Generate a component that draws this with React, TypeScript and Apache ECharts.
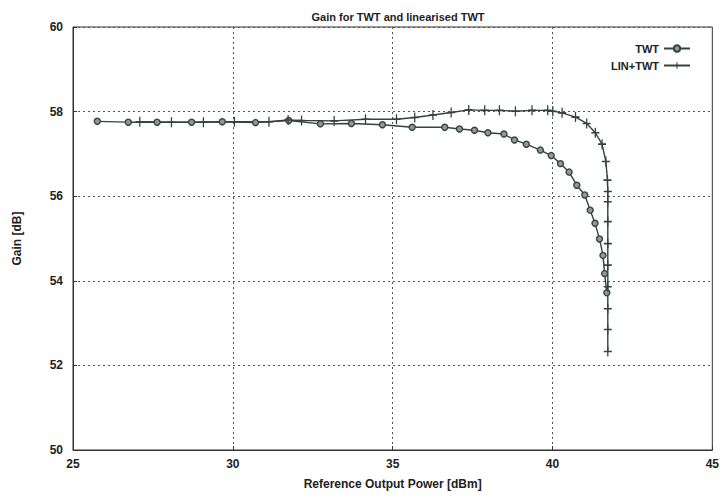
import React, { useEffect, useRef } from "react";
import * as echarts from "echarts";

const twtX = [25.76, 26.73, 27.63, 28.71, 29.67, 30.71, 31.75, 32.74, 33.71, 34.68, 35.61, 36.63, 37.09, 37.56, 37.98, 38.48, 38.81, 39.18, 39.62, 39.96, 40.25, 40.52, 40.76, 41.01, 41.18, 41.33, 41.47, 41.58, 41.63, 41.70];
const twtY = [57.77, 57.75, 57.75, 57.75, 57.76, 57.74, 57.79, 57.71, 57.72, 57.69, 57.63, 57.63, 57.59, 57.56, 57.50, 57.47, 57.33, 57.23, 57.09, 56.96, 56.77, 56.57, 56.26, 56.03, 55.67, 55.36, 54.99, 54.60, 54.17, 53.72];

const linX = [27.09, 28.08, 29.08, 30.05, 31.13, 31.73, 32.15, 33.17, 34.15, 35.12, 35.69, 36.26, 36.83, 37.38, 37.88, 38.34, 38.84, 39.36, 39.85, 40.01, 40.30, 40.72, 41.07, 41.34, 41.55, 41.67, 41.72, 41.73, 41.73, 41.73, 41.73, 41.73, 41.73, 41.73, 41.73, 41.73];
const linY = [57.76, 57.75, 57.75, 57.76, 57.76, 57.80, 57.79, 57.78, 57.82, 57.82, 57.86, 57.92, 57.98, 58.04, 58.03, 58.03, 58.01, 58.03, 58.03, 58.01, 57.97, 57.87, 57.72, 57.50, 57.23, 56.82, 56.38, 56.11, 55.87, 55.40, 54.88, 54.37, 53.86, 53.34, 52.85, 52.33];

const xTicks = [25, 30, 35, 40, 45];
const yTicks = [50, 52, 54, 56, 58, 60];

const titleText = "Gain for TWT and linearised TWT";
const xName = "Reference Output Power [dBm]";
const yName = "Gain [dB]";
const seriesNames = ["TWT", "LIN+TWT"];

const lineColor = "#34433f";
const textColor = "#222";
const font = "Liberation Sans, Arial, sans-serif";

const plusPath = "path://M4.2,0L5.8,0L5.8,4.2L10,4.2L10,5.8L5.8,5.8L5.8,10L4.2,10L4.2,5.8L0,5.8L0,4.2L4.2,4.2Z";

export default function App() {
  const ref = useRef<HTMLDivElement>(null);
  useEffect(() => {
    if (!ref.current) return;
    const chart = echarts.init(ref.current, undefined, { renderer: "svg" });
    chart.setOption({
      animation: false,
      backgroundColor: "#fff",
      title: {
        text: titleText,
        left: 393,
        textAlign: "center",
        top: 6,
        textStyle: { fontFamily: font, fontSize: 11, fontWeight: "bold", color: textColor },
      },
      legend: {
        orient: "vertical",
        right: 26,
        top: 38,
        align: "right",
        itemWidth: 26,
        itemHeight: 8,
        itemGap: 6,
        data: seriesNames,
        textStyle: { fontFamily: font, fontSize: 11, fontWeight: "bold", color: textColor },
      },
      grid: {
        left: 73,
        right: 9,
        top: 27,
        bottom: 47,
        show: true,
        borderColor: "#333",
        borderWidth: 1,
        backgroundColor: "transparent",
      },
      xAxis: {
        type: "value",
        min: xTicks[0],
        max: xTicks[xTicks.length - 1],
        interval: 5,
        name: xName,
        nameLocation: "middle",
        nameGap: 28,
        nameTextStyle: { fontFamily: font, fontSize: 12, fontWeight: "bold", color: textColor },
        axisLine: { show: true, lineStyle: { color: "#333" } },
        axisTick: { show: true, inside: true, length: 4, lineStyle: { color: "#333" } },
        axisLabel: { fontFamily: font, fontSize: 12, fontWeight: "bold", color: textColor, margin: 8 },
        splitLine: { show: true, lineStyle: { type: [2, 3], color: "#555", width: 1 } },
      },
      yAxis: {
        type: "value",
        min: yTicks[0],
        max: yTicks[yTicks.length - 1],
        interval: 2,
        name: yName,
        nameLocation: "middle",
        nameGap: 50,
        nameTextStyle: { fontFamily: font, fontSize: 12, fontWeight: "bold", color: textColor },
        axisLine: { show: true, lineStyle: { color: "#333" } },
        axisTick: { show: true, inside: true, length: 4, lineStyle: { color: "#333" } },
        axisLabel: { fontFamily: font, fontSize: 12, fontWeight: "bold", color: textColor, margin: 10 },
        splitLine: { show: true, lineStyle: { type: [2, 3], color: "#555", width: 1 } },
      },
      series: [
        {
          name: seriesNames[0],
          type: "line",
          data: twtX.map((x, i) => [x, twtY[i]]),
          symbol: "circle",
          symbolSize: 6,
          lineStyle: { color: lineColor, width: 1.4 },
          itemStyle: { color: "#8f9a95", borderColor: lineColor, borderWidth: 1.4 },
        },
        {
          name: seriesNames[1],
          type: "line",
          data: linX.map((x, i) => [x, linY[i]]),
          symbol: plusPath,
          symbolSize: [8, 10],
          lineStyle: { color: lineColor, width: 1.4 },
          itemStyle: { color: lineColor },
        },
      ],
    });
    return () => chart.dispose();
  }, []);
  return <div ref={ref} style={{ width: 722, height: 497, position: "absolute", left: 0, top: 0 }} />;
}
